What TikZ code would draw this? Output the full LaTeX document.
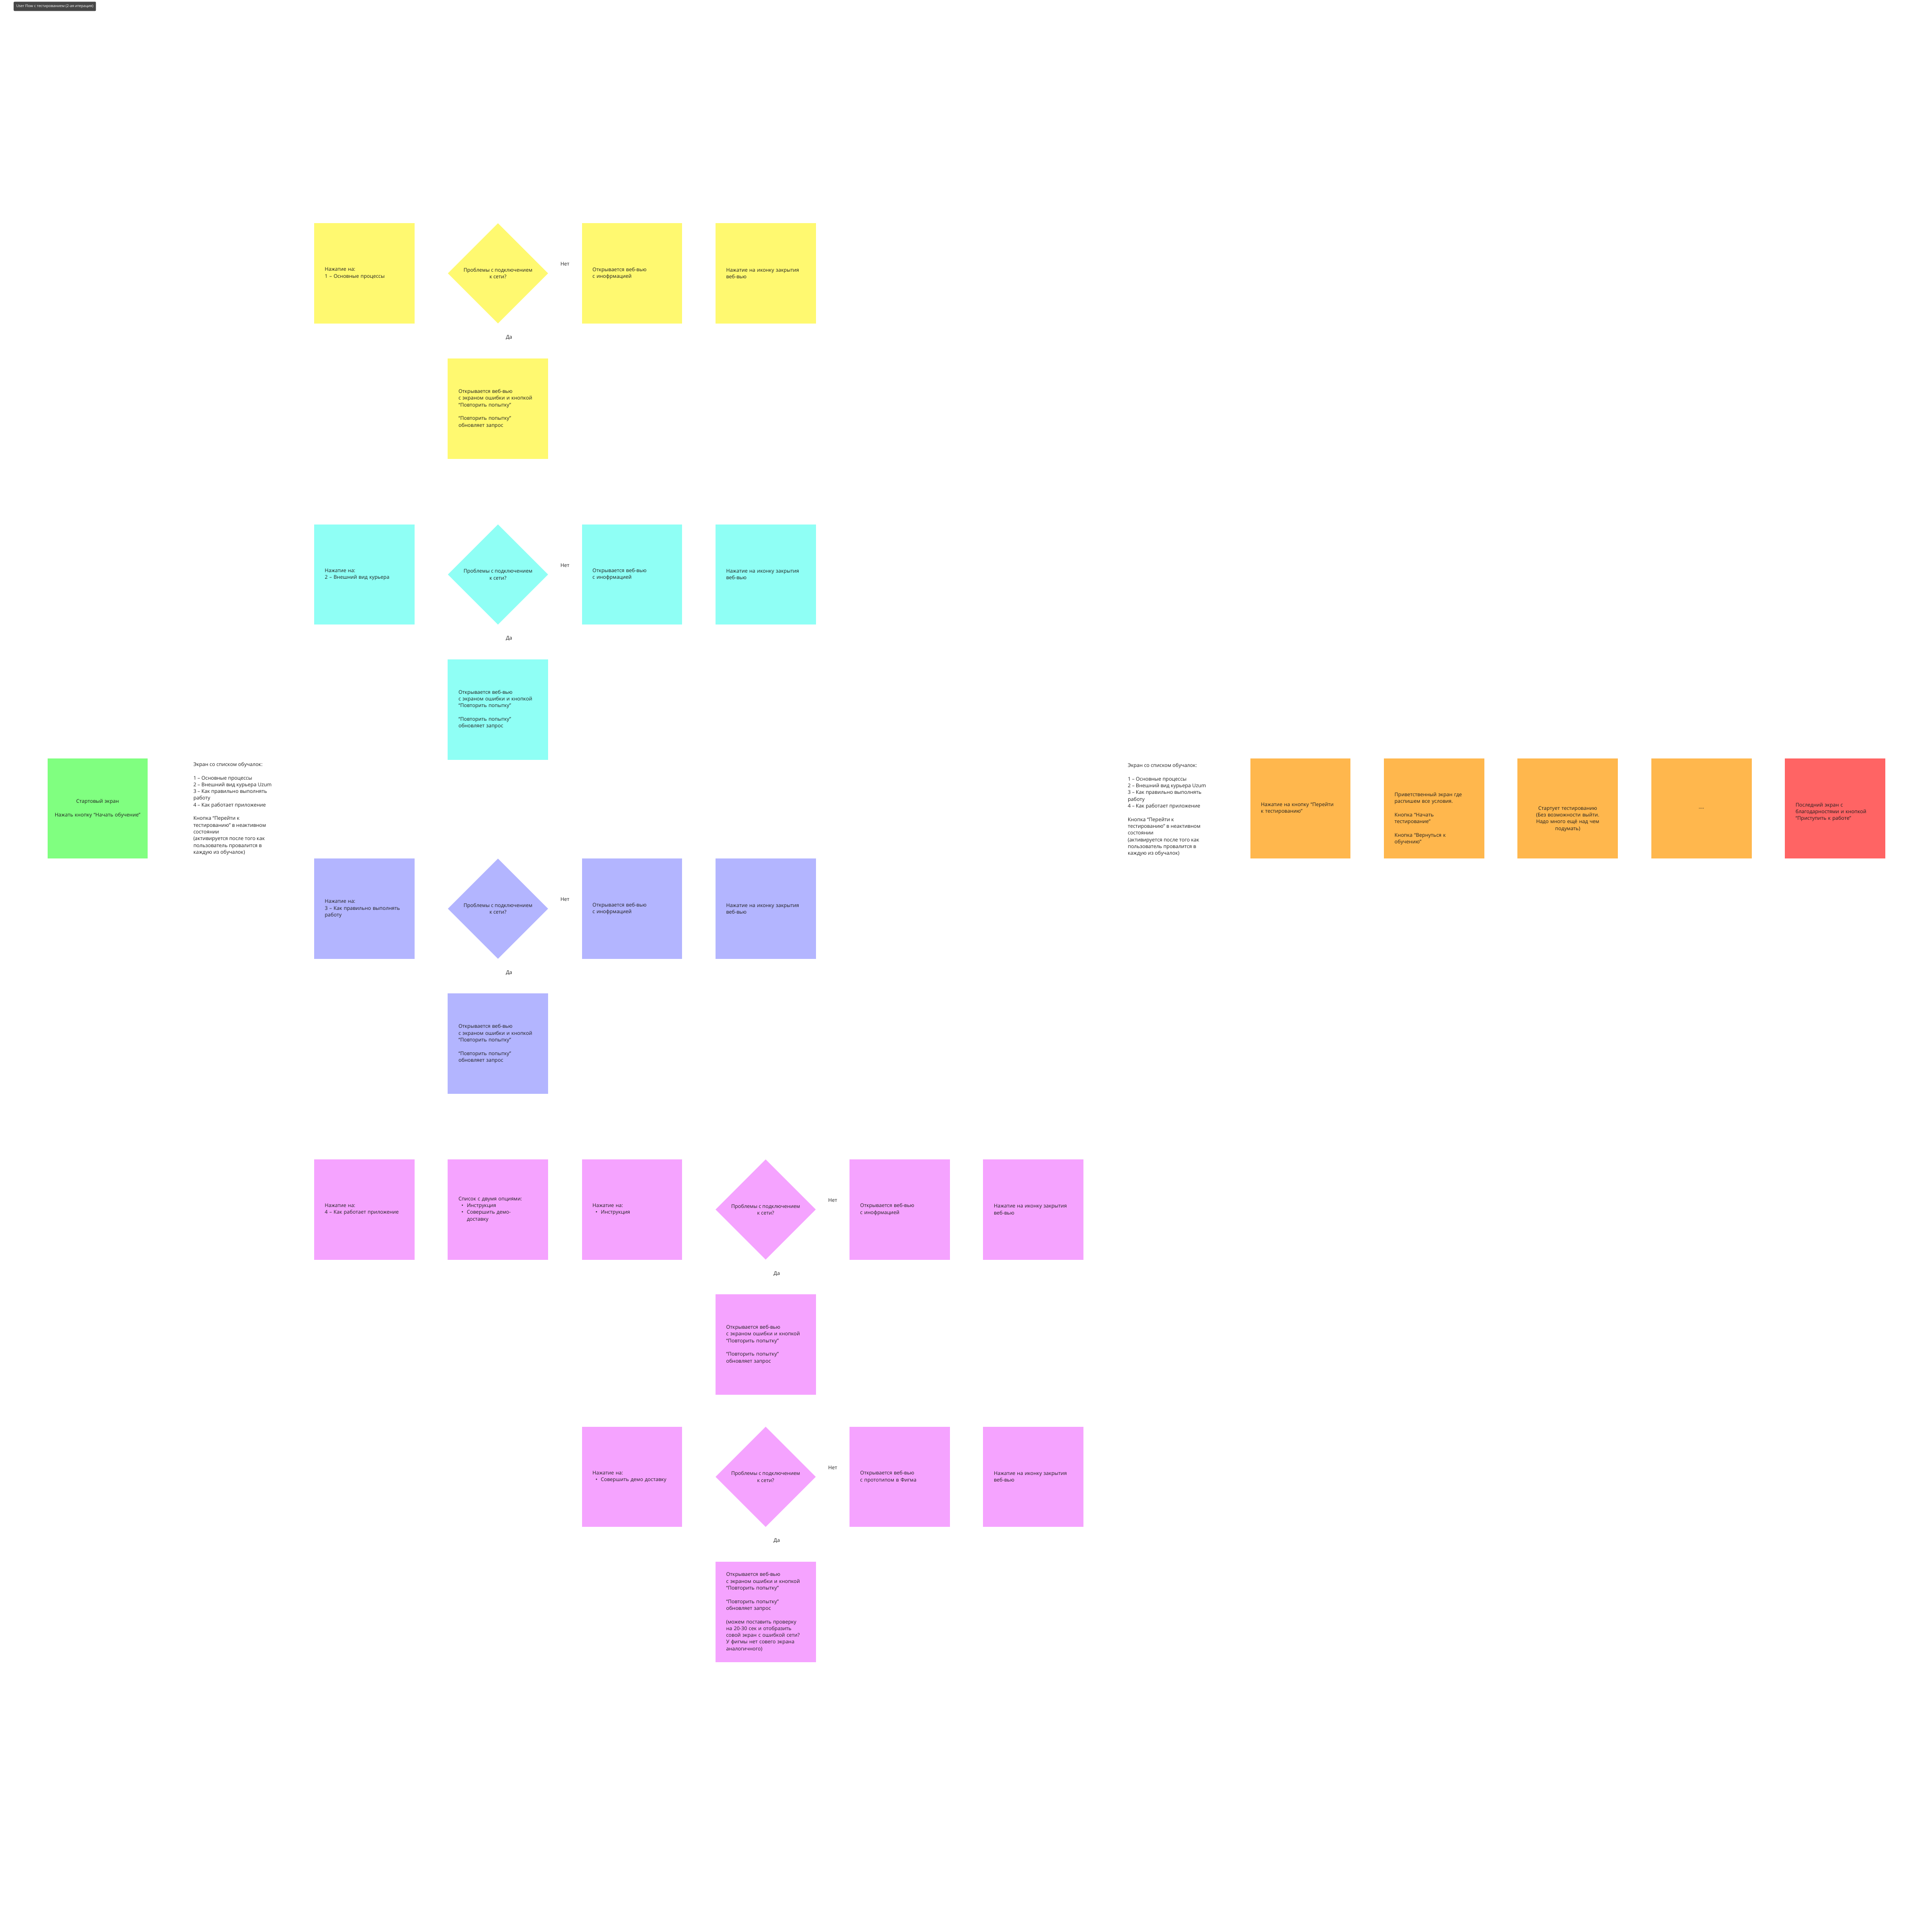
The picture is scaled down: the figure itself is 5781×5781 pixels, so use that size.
\documentclass[tikz,border=0pt]{standalone}
\usepackage{fontspec}
\setmainfont{Open Sans}
\usepackage{tikz}
\usetikzlibrary{positioning, shapes.geometric}

\definecolor{ink}{HTML}{1E1E1E}
\definecolor{stickyyellow}{HTML}{FFF970}
\definecolor{stickycyan}{HTML}{8FFFF5}
\definecolor{stickyviolet}{HTML}{B3B5FF}
\definecolor{stickypink}{HTML}{F5A3FF}
\definecolor{stickygreen}{HTML}{80FF80}
\definecolor{stickyorange}{HTML}{FFB74D}
\definecolor{stickyred}{HTML}{FF6464}
\definecolor{tagbg}{HTML}{474747}

\newcommand{\notefont}{\fontsize{4.3pt}{5.75pt}\selectfont}
\newcommand{\tagfont}{\fontsize{3.15pt}{3.8pt}\selectfont}
\newcommand{\itm}{\hspace*{0.09cm}\makebox[0.16cm][l]{\textbullet}}

\begin{document}
\begin{tikzpicture}[
        x=0.01cm, y=-0.01cm,
        font=\notefont,
        note/.style={
            rectangle,
            fill=#1,
            text=ink,
            align=left,
            text width=2.36cm,
            minimum width=3cm,
            minimum height=3cm,
            inner sep=0pt
        },
        check/.style={
            diamond,
            aspect=1,
            fill=#1,
            text=ink,
            align=center,
            minimum width=3cm,
            minimum height=3cm,
            inner sep=0pt
        },
        memo/.style={text=ink, align=left, inner sep=0pt},
        reply/.style={text=ink, inner sep=0pt},
        link/.style={draw=white, line width=0.5pt, ->}
    ]

    \path[fill=white, use as bounding box] (0,0) rectangle (5781,5781);

    \node[fill=tagbg, text=white, font=\tagfont, rounded corners=0.03cm, minimum width=2.46cm, minimum height=0.28cm, inner sep=0pt] (title) at (164,19) {User Flow с тестированием (2-ая итерация)};

    % start and list of tutorials
    \node[note=stickygreen, align=center, text width=2.9cm] (start) at (292,2419) {Стартовый экран\\[5.75pt]Нажать кнопку “Начать обучение”};
    \node[memo, anchor=west] (list) at (578,2420) {Экран со списком обучалок:\\[5.75pt]1 – Основные процессы\\2 – Внешний вид курьера Uzum\\3 – Как правильно выполнять\\работу\\4 – Как работает приложение\\[5.75pt]Кнопка “Перейти к\\тестированию” в неактивном\\состоянии\\(активируется после того как\\пользователь провалится в\\каждую из обучалок)};
    \draw[link] (start) -- (list);

    % 1 - basic processes
    \node[note=stickyyellow] (y1) at (1090,818) {Нажатие на:\\1 – Основные процессы};
    \node[check=stickyyellow] (yq) at (1490,818) {Проблемы с подключением\\к сети?};
    \node[note=stickyyellow] (y3) at (1891,818) {Открывается веб-вью\\с инофрмацией};
    \node[note=stickyyellow] (y4) at (2291,818) {Нажатие на иконку закрытия\\веб-вью};
    \node[note=stickyyellow] (ye) at (1490,1223) {Открывается веб-вью\\с экраном ошибки и кнопкой\\“Повторить попытку”\\[5.75pt]“Повторить попытку”\\обновляет запрос};

    \draw[link] (y1) -- (yq);
    \draw[link] (yq) -- node[reply, above=0.21cm] {Нет} (y3);
    \draw[link] (y3) -- (y4);
    \draw[link] (yq) -- node[reply, right=0.23cm, yshift=0.1cm] {Да} (ye);
    \draw[link] (ye.east) -| (y4.south);

    % 2 - courier look
    \node[note=stickycyan] (c1) at (1090,1719) {Нажатие на:\\2 – Внешний вид курьера};
    \node[check=stickycyan] (cq) at (1490,1719) {Проблемы с подключением\\к сети?};
    \node[note=stickycyan] (c3) at (1891,1719) {Открывается веб-вью\\с инофрмацией};
    \node[note=stickycyan] (c4) at (2291,1719) {Нажатие на иконку закрытия\\веб-вью};
    \node[note=stickycyan] (ce) at (1490,2123) {Открывается веб-вью\\с экраном ошибки и кнопкой\\“Повторить попытку”\\[5.75pt]“Повторить попытку”\\обновляет запрос};

    \draw[link] (c1) -- (cq);
    \draw[link] (cq) -- node[reply, above=0.21cm] {Нет} (c3);
    \draw[link] (c3) -- (c4);
    \draw[link] (cq) -- node[reply, right=0.23cm, yshift=0.1cm] {Да} (ce);
    \draw[link] (ce.east) -| (c4.south);

    % 3 - how to do the job
    \node[note=stickyviolet] (v1) at (1090,2719) {Нажатие на:\\3 – Как правильно выполнять\\работу};
    \node[check=stickyviolet] (vq) at (1490,2719) {Проблемы с подключением\\к сети?};
    \node[note=stickyviolet] (v3) at (1891,2719) {Открывается веб-вью\\с инофрмацией};
    \node[note=stickyviolet] (v4) at (2291,2719) {Нажатие на иконку закрытия\\веб-вью};
    \node[note=stickyviolet] (ve) at (1490,3123) {Открывается веб-вью\\с экраном ошибки и кнопкой\\“Повторить попытку”\\[5.75pt]“Повторить попытку”\\обновляет запрос};

    \draw[link] (v1) -- (vq);
    \draw[link] (vq) -- node[reply, above=0.21cm] {Нет} (v3);
    \draw[link] (v3) -- (v4);
    \draw[link] (vq) -- node[reply, right=0.23cm, yshift=0.1cm] {Да} (ve);
    \draw[link] (ve.east) -| (v4.south);

    % 4 - how the app works
    \node[note=stickypink] (p1) at (1090,3619) {Нажатие на:\\4 – Как работает приложение};
    \node[note=stickypink] (p2) at (1490,3619) {Список с двумя опциями:\\\itm Инструкция\\\itm Совершить демо-\\\hspace*{0.25cm}доставку};
    \node[note=stickypink] (p3) at (1891,3619) {Нажатие на:\\\itm Инструкция};
    \node[check=stickypink] (pq) at (2291,3619) {Проблемы с подключением\\к сети?};
    \node[note=stickypink] (p5) at (2692,3619) {Открывается веб-вью\\с инофрмацией};
    \node[note=stickypink] (p6) at (3092,3619) {Нажатие на иконку закрытия\\веб-вью};
    \node[note=stickypink] (pe) at (2291,4023) {Открывается веб-вью\\с экраном ошибки и кнопкой\\“Повторить попытку”\\[5.75pt]“Повторить попытку”\\обновляет запрос};

    \draw[link] (p1) -- (p2);
    \draw[link] (p2) -- (p3);
    \draw[link] (p3) -- (pq);
    \draw[link] (pq) -- node[reply, above=0.21cm] {Нет} (p5);
    \draw[link] (p5) -- (p6);
    \draw[link] (pq) -- node[reply, right=0.23cm, yshift=0.1cm] {Да} (pe);
    \draw[link] (pe.east) -| (p6.south);

    % demo delivery
    \node[note=stickypink] (q1) at (1891,4419) {Нажатие на:\\\itm\mbox{Совершить демо доставку}};
    \node[check=stickypink] (qq) at (2291,4419) {Проблемы с подключением\\к сети?};
    \node[note=stickypink] (q3) at (2692,4419) {Открывается веб-вью\\с прототипом в Фигма};
    \node[note=stickypink] (q4) at (3092,4419) {Нажатие на иконку закрытия\\веб-вью};
    \node[note=stickypink] (qe) at (2291,4823) {Открывается веб-вью\\с экраном ошибки и кнопкой\\“Повторить попытку”\\[5.75pt]“Повторить попытку”\\обновляет запрос\\[5.75pt](можем поставить проверку\\на 20-30 сек и отобразить\\совой экран с ошибкой сети?\\У фигмы нет совего экрана\\аналогичного)};

    \draw[link] (q1) -- (qq);
    \draw[link] (qq) -- node[reply, above=0.21cm] {Нет} (q3);
    \draw[link] (q3) -- (q4);
    \draw[link] (qq) -- node[reply, right=0.23cm, yshift=0.1cm] {Да} (qe);
    \draw[link] (qe.east) -| (q4.south);

    % testing
    \node[memo, anchor=west] (rlist) at (3374,2423) {Экран со списком обучалок:\\[5.75pt]1 – Основные процессы\\2 – Внешний вид курьера Uzum\\3 – Как правильно выполнять\\работу\\4 – Как работает приложение\\[5.75pt]Кнопка “Перейти к\\тестированию” в неактивном\\состоянии\\(активируется после того как\\пользователь провалится в\\каждую из обучалок)};
    \node[note=stickyorange] (o1) at (3891,2419) {Нажатие на кнопку “Перейти\\к тестированию”};
    \node[note=stickyorange] (o2) at (4291,2419) {};
    \node[memo, text width=2.36cm] (o2text) at ([yshift=-0.31cm]o2.center) {Приветственный экран где\\распишем все условия.\\[5.75pt]Кнопка “Начать\\тестирование”\\[5.75pt]Кнопка “Вернуться к\\обучению”};
    \node[note=stickyorange] (o3) at (4691,2419) {};
    \node[memo, align=center, text width=2.6cm] (o3text) at ([yshift=-0.31cm]o3.center) {Стартует тестированию\\(Без возможности выйти.\\Надо много ещё над чем\\подумать)};
    \node[note=stickyorange, align=center] (o4) at (5091,2419) {....};
    \node[note=stickyred] (fin) at (5491,2419) {};
    \node[memo, text width=2.36cm] (fintext) at ([yshift=-0.11cm]fin.center) {Последний экран с\\благодарностями и кнопкой\\“Приступить к работе”};

    \draw[link] (rlist) -- (o1);
    \draw[link] (o1) -- (o2);
    \draw[link] (o2) -- (o3);
    \draw[link] (o3) -- (o4);
    \draw[link] (o4) -- (fin);

\end{tikzpicture}
\end{document}
